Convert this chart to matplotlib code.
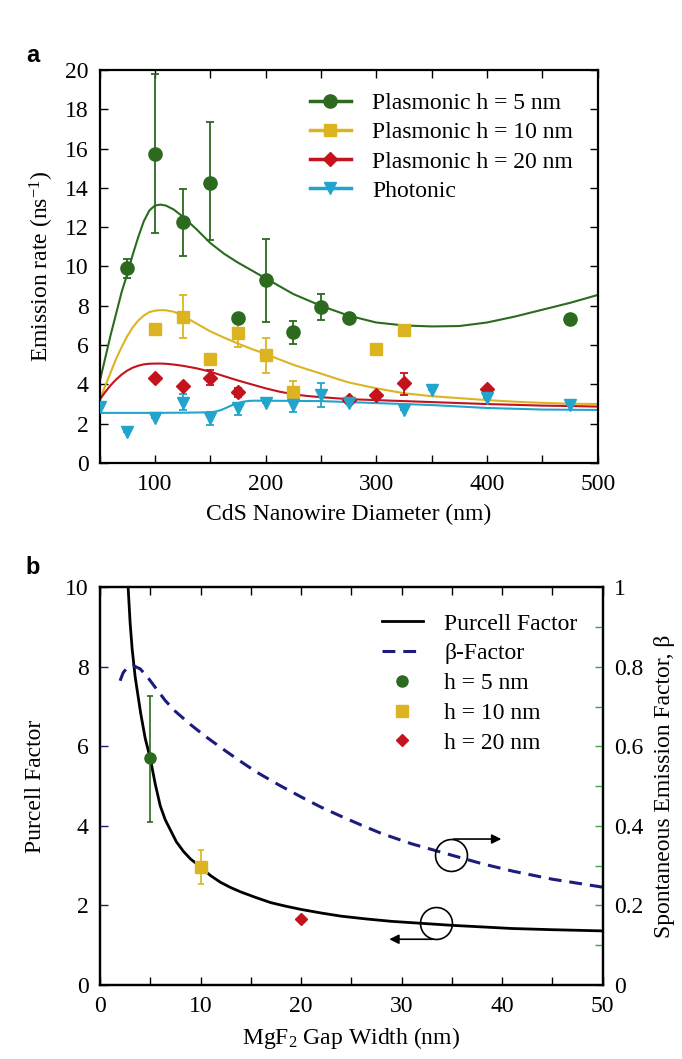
import matplotlib
matplotlib.use("Agg")
import matplotlib.pyplot as plt
from matplotlib.ticker import MultipleLocator, FuncFormatter
from matplotlib.lines import Line2D

plt.rcParams['font.family'] = ['Liberation Serif', 'DejaVu Serif']
plt.rcParams['mathtext.fontset'] = 'custom'
plt.rcParams['mathtext.rm'] = 'Liberation Serif'
plt.rcParams['mathtext.it'] = 'Liberation Serif:italic'
plt.rcParams['font.size'] = 17

# ---- panel a: measured emission rates ----
d5 = [75, 100, 125, 150, 175, 200, 225, 250, 275, 475]
r5 = [9.9, 15.7, 12.25, 14.25, 7.4, 9.3, 6.65, 7.95, 7.4, 7.35]
lo5 = [0.5, 4.0, 1.7, 2.9, 0, 2.15, 0.6, 0.65, 0, 0]
hi5 = [0.5, 4.1, 1.7, 3.1, 0, 2.1, 0.6, 0.65, 0, 0]

d10 = [100, 125, 150, 175, 200, 225, 300, 325]
r10 = [6.8, 7.45, 5.3, 6.6, 5.5, 3.6, 5.8, 6.75]
lo10 = [0, 1.1, 0, 0.7, 0.9, 0.55, 0, 0]
hi10 = [0, 1.1, 0, 0.6, 0.85, 0.55, 0, 0]

d20 = [100, 125, 150, 175, 275, 300, 325, 400]
r20 = [4.35, 3.9, 4.35, 3.6, 3.2, 3.45, 4.05, 3.75]
lo20 = [0, 0, 0.38, 0.23, 0, 0, 0.6, 0]
hi20 = [0, 0, 0.38, 0.2, 0, 0, 0.55, 0]

dph = [50, 75, 100, 125, 150, 175, 200, 225, 250, 275, 325, 350, 400, 475]
rph = [2.87, 1.56, 2.27, 3.07, 2.27, 2.78, 3.04, 2.95, 3.46, 3.04, 2.7, 3.71, 3.29, 2.95]
loph = [0, 0, 0, 0.37, 0.34, 0.34, 0, 0.34, 0.59, 0, 0, 0, 0, 0]
hiph = [0, 0, 0, 0.43, 0.34, 0.26, 0, 0.25, 0.59, 0, 0, 0, 0, 0]

# simulated curves
cx = [50, 55, 60, 65, 70, 75, 80, 85, 90, 95, 100, 105, 110, 117, 125, 137.5,
      150, 162.5, 175, 187.5, 200, 212.5, 225, 237.5, 250, 262.5, 275, 300,
      325, 350, 375, 400, 425, 450, 475, 500]
c5 = [4.1, 5.3, 6.5, 7.6, 8.7, 9.6, 10.6, 11.5, 12.3, 12.85, 13.1, 13.15,
      13.1, 12.9, 12.55, 11.9, 11.2, 10.65, 10.2, 9.8, 9.4, 9.0, 8.6, 8.3,
      8.0, 7.75, 7.5, 7.15, 7.0, 6.95, 6.97, 7.15, 7.45, 7.8, 8.15, 8.55]
c10 = [3.2, 3.9, 4.6, 5.3, 5.9, 6.45, 6.9, 7.25, 7.5, 7.68, 7.75, 7.78, 7.77,
       7.7, 7.5, 7.1, 6.7, 6.38, 6.08, 5.8, 5.55, 5.27, 5.0, 4.77, 4.55, 4.32,
       4.1, 3.8, 3.55, 3.4, 3.3, 3.2, 3.12, 3.06, 3.02, 3.0]
c20 = [3.2, 3.6, 3.95, 4.25, 4.5, 4.7, 4.85, 4.95, 5.02, 5.05, 5.06, 5.06,
       5.05, 5.01, 4.95, 4.82, 4.65, 4.42, 4.2, 4.0, 3.8, 3.63, 3.5, 3.41,
       3.35, 3.3, 3.25, 3.2, 3.15, 3.1, 3.05, 3.0, 2.96, 2.92, 2.9, 2.87]
cphx = [50, 100, 125, 150, 155, 160, 165, 170, 175, 180, 185, 190, 200, 250,
        300, 350, 400, 450, 500]
cph = [2.55, 2.55, 2.56, 2.58, 2.62, 2.7, 2.82, 2.95, 3.05, 3.12, 3.16, 3.17,
       3.17, 3.15, 3.05, 2.95, 2.8, 2.72, 2.7]

# ---- panel b ----
gx = [2.8, 2.9, 3.0, 3.2, 3.5, 3.75, 4.05, 4.5, 5.0, 5.5, 6.0, 6.5, 7.0, 7.6,
      8.3, 9.0, 10.0, 11.0, 12.0, 13.0, 14.0, 15.5, 17.0, 18.5, 20.0, 22.0,
      24.0, 26.5, 29.0, 32.0, 35.0, 38.0, 41.0, 45.0, 50.0]
purcell = [10.0, 9.55, 9.1, 8.45, 7.75, 7.33, 6.83, 6.2, 5.7, 5.05, 4.5, 4.15,
           3.9, 3.6, 3.36, 3.17, 2.97, 2.75, 2.58, 2.45, 2.34, 2.2, 2.07, 1.98,
           1.9, 1.81, 1.73, 1.66, 1.6, 1.55, 1.5, 1.46, 1.42, 1.39, 1.36]
bx = [2.0, 2.3, 2.7, 3.3, 4.0, 4.8, 5.6, 6.5, 7.5, 9.0, 10.5, 12.3, 14.0, 15.6,
      17.8, 20.0, 22.0, 24.0, 26.0, 28.0, 31.0, 34.9, 38.0, 41.1, 45.0, 50.0]
beta = [0.765, 0.785, 0.798, 0.803, 0.795, 0.772, 0.745, 0.715, 0.688, 0.655,
        0.625, 0.592, 0.562, 0.535, 0.503, 0.473, 0.447, 0.424, 0.402, 0.381,
        0.355, 0.327, 0.305, 0.286, 0.266, 0.246]
hx = [5, 10, 20]
hpf = [5.7, 2.97, 1.65]
hlo = [1.6, 0.44, 0]
hhi = [1.57, 0.42, 0]

green = '#2b6a1f'
yellow = '#dcb422'
red = '#c3131d'
cyan = '#22a5cc'
navy = '#1c1c7c'

fig = plt.figure(figsize=(6.82, 10.59), dpi=100)

ax = fig.add_axes([0.1459, 0.5628, 0.7305, 0.3711])
series = [(c5, d5, r5, lo5, hi5, green, 'o', 9.5, 'Plasmonic h = 5 nm', cx),
          (c10, d10, r10, lo10, hi10, yellow, 's', 8.5, 'Plasmonic h = 10 nm', cx),
          (c20, d20, r20, lo20, hi20, red, 'D', 7, 'Plasmonic h = 20 nm', cx),
          (cph, dph, rph, loph, hiph, cyan, 'v', 9, 'Photonic', cphx)]
handles = []
for cy, dx, ry, lo, hi, col, mk, ms, lab, xx in series:
    ax.plot(xx, cy, color=col, lw=1.5, zorder=2)
    ax.errorbar(dx, ry, yerr=[lo, hi], fmt='none', ecolor=col, elinewidth=1.3,
                capsize=3, capthick=1.3, zorder=3)
    ax.plot(dx, ry, ls='none', marker=mk, ms=ms, color=col, zorder=4)
    handles.append(Line2D([], [], color=col, lw=2.5, marker=mk, ms=ms))
ax.set_xlim(50, 500)
ax.set_ylim(0, 20)
ax.xaxis.set_major_locator(MultipleLocator(100))
ax.xaxis.set_minor_locator(MultipleLocator(50))
ax.yaxis.set_major_locator(MultipleLocator(2))
ax.tick_params(which='both', direction='in', top=True, right=True, length=6,
               width=1, pad=8)
ax.set_xlabel('CdS Nanowire Diameter (nm)', labelpad=6)
ax.set_ylabel('Emission rate (ns$^{-1}$)', labelpad=6)
for s in ax.spines.values():
    s.set_linewidth(1.6)
ax.legend(handles, [h[8] for h in series], loc='upper left',
          bbox_to_anchor=(0.398, 0.972), frameon=False, borderpad=0,
          handlelength=1.75, handletextpad=0.9, labelspacing=0.32)
fig.text(0.048, 0.948, 'a', family='Liberation Sans', weight='bold',
         fontsize=17, ha='center', va='center')

# panel b
bx1 = fig.add_axes([0.1466, 0.0699, 0.737, 0.3755])
bx2 = bx1.twinx()
bx1.plot(gx, purcell, color='black', lw=2, zorder=2)
for i, col in enumerate([green, yellow]):
    bx1.errorbar(hx[i], hpf[i], yerr=[[hlo[i]], [hhi[i]]], fmt='none',
                 ecolor=col, elinewidth=1.2, capsize=2.5, capthick=1.2)
bx1.plot(hx[0], hpf[0], 'o', color=green, ms=8, zorder=4)
bx1.plot(hx[1], hpf[1], 's', color=yellow, ms=8, zorder=4)
bx1.plot(hx[2], hpf[2], 'D', color=red, ms=6.5, zorder=4)
bx2.plot(bx, beta, color=navy, lw=2.2, ls=(0, (4.2, 2.6)))
bx1.set_xlim(0, 50)
bx1.set_ylim(0, 10)
bx2.set_ylim(0, 1)
bx1.xaxis.set_major_locator(MultipleLocator(10))
bx1.xaxis.set_minor_locator(MultipleLocator(5))
bx1.yaxis.set_major_locator(MultipleLocator(2))
bx2.yaxis.set_major_locator(MultipleLocator(0.2))
bx2.yaxis.set_minor_locator(MultipleLocator(0.1))
bx2.yaxis.set_major_formatter(FuncFormatter(lambda v, p: '%g' % round(v, 2)))
bx1.tick_params(which='both', direction='in', top=True, length=6, width=1, pad=8)
bx1.tick_params(axis='y', colors=navy, labelcolor='black')
bx2.tick_params(which='both', direction='in', length=6, width=1, pad=8,
                colors='#3aa83a', labelcolor='black')
bx1.set_xlabel('MgF$_2$ Gap Width (nm)', labelpad=6)
bx1.set_ylabel('Purcell Factor', labelpad=14)
bx2.set_ylabel('Spontaneous Emission Factor, \u03b2', labelpad=8)
for a in (bx1, bx2):
    for s in a.spines.values():
        s.set_linewidth(1.6)

# circles and arrows marking which axis each curve belongs to
bx2.plot(34.9, 0.327, 'o', ms=23, mfc='none', mec='black', mew=1.2)
bx2.annotate('', xy=(40.2, 0.367), xytext=(34.9, 0.367),
             arrowprops=dict(arrowstyle='-|>', color='black', lw=1.2,
                             mutation_scale=14))
bx1.plot(33.4, 1.55, 'o', ms=23, mfc='none', mec='black', mew=1.2)
bx1.annotate('', xy=(28.5, 1.15), xytext=(33.4, 1.15),
             arrowprops=dict(arrowstyle='-|>', color='black', lw=1.2,
                             mutation_scale=14))

lh = [Line2D([], [], color='black', lw=2),
      Line2D([], [], color=navy, lw=2.2, ls=(0, (4.2, 2.6))),
      Line2D([], [], ls='none', marker='o', color=green, ms=8),
      Line2D([], [], ls='none', marker='s', color=yellow, ms=8),
      Line2D([], [], ls='none', marker='D', color=red, ms=6.5)]
bx2.legend(lh, ['Purcell Factor', '\u03b2-Factor', 'h = 5 nm', 'h = 10 nm',
                'h = 20 nm'], loc='upper left', bbox_to_anchor=(0.537, 0.965),
           frameon=False, borderpad=0, handlelength=1.75, handletextpad=0.9,
           labelspacing=0.35)
fig.text(0.048, 0.4645, 'b', family='Liberation Sans', weight='bold',
         fontsize=17, ha='center', va='center')

fig.savefig('out.png', dpi=100)
